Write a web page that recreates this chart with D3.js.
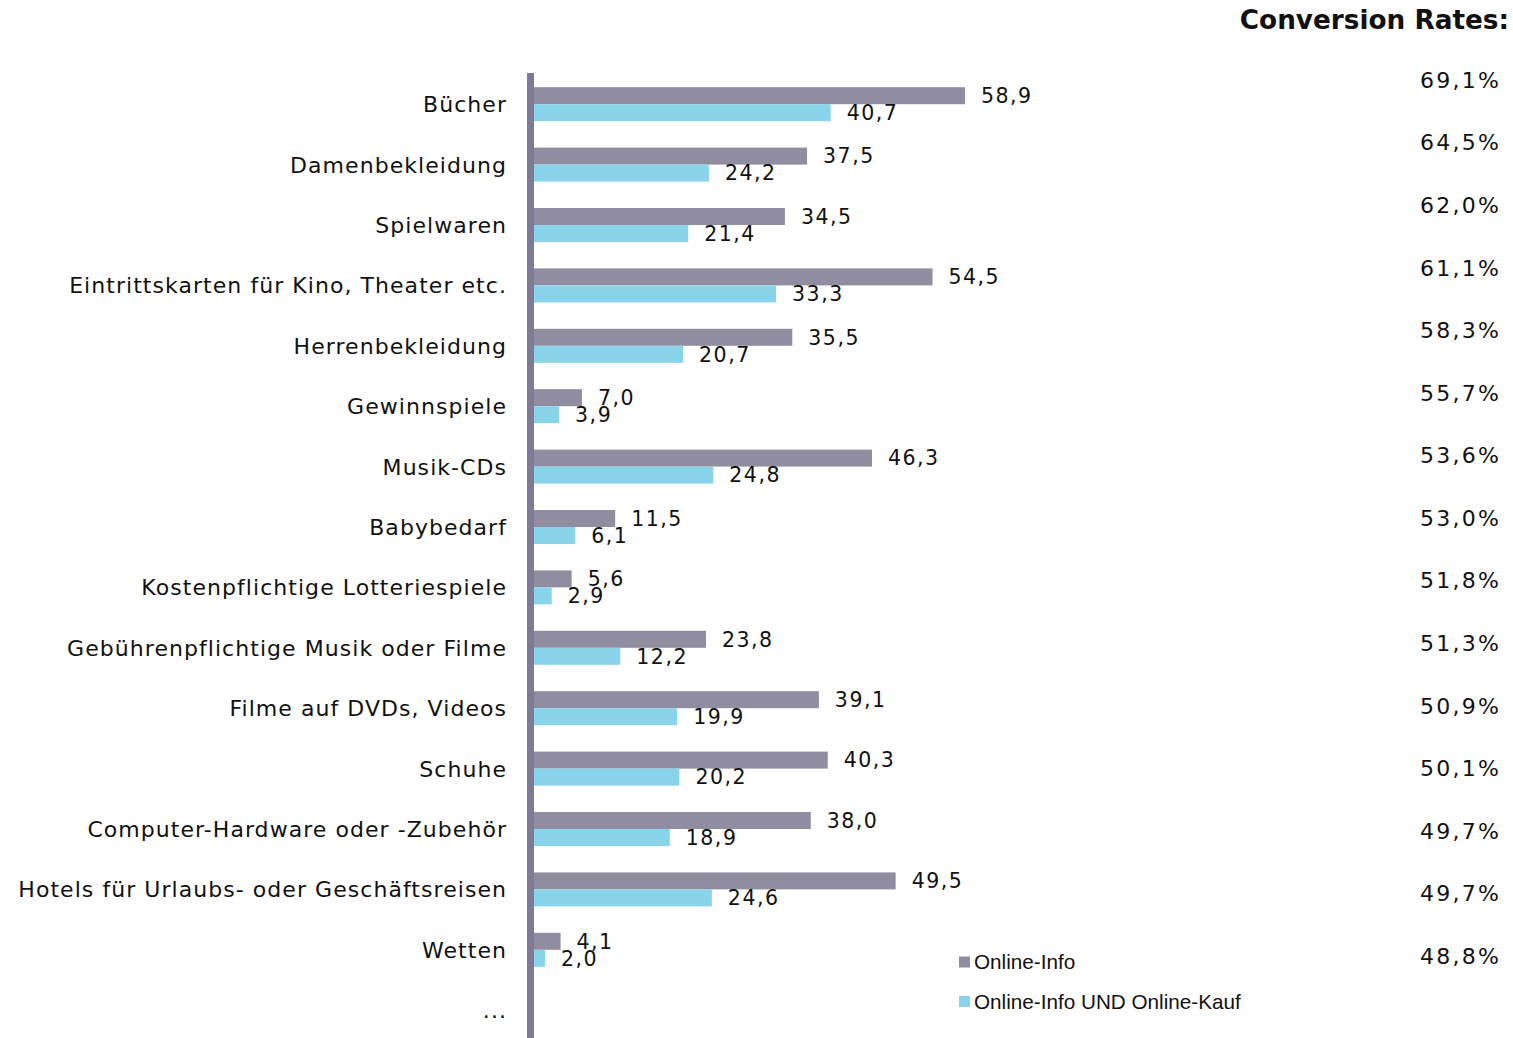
<!DOCTYPE html>
<html><head><meta charset="utf-8">
<script src="https://cdn.jsdelivr.net/npm/d3@7"></script>
<style>body{margin:0;background:#fff}svg{display:block}</style>
</head><body>
<svg id="c" width="1513" height="1038"></svg>
<script>
const categories = ["Bücher","Damenbekleidung","Spielwaren","Eintrittskarten für Kino, Theater etc.","Herrenbekleidung","Gewinnspiele","Musik-CDs","Babybedarf","Kostenpflichtige Lotteriespiele","Gebührenpflichtige Musik oder Filme","Filme auf DVDs, Videos","Schuhe","Computer-Hardware oder -Zubehör","Hotels für Urlaubs- oder Geschäftsreisen","Wetten","..."];
const onlineInfo = [58.9,37.5,34.5,54.5,35.5,7.0,46.3,11.5,5.6,23.8,39.1,40.3,38.0,49.5,4.1];
const onlineKauf = [40.7,24.2,21.4,33.3,20.7,3.9,24.8,6.1,2.9,12.2,19.9,20.2,18.9,24.6,2.0];
const conversionRates = [69.1,64.5,62.0,61.1,58.3,55.7,53.6,53.0,51.8,51.3,50.9,50.1,49.7,49.7,48.8];
const seriesNames = ["Online-Info","Online-Info UND Online-Kauf"];
const title = "Conversion Rates:";

const colors = ["#8f8d9f","#89d4eb"];
const fmt = v => d3.format(".1f")(v).replace(".", ",");
const svg = d3.select("#c");
const labelFont = "'DejaVu Sans', Verdana, sans-serif";

const x = d3.scaleLinear().domain([0, 58.9]).range([530.3, 965]);
const y = d3.scaleBand().domain(categories).range([74, 74 + 16*60.4]).paddingInner(0.437).paddingOuter(0.2185);
const sub = d3.scaleBand().domain([0,1]).range([0, y.bandwidth()]);
const yRate = d3.scalePoint().domain(d3.range(conversionRates.length)).range([80, 956]);

// bars
const rows = categories.slice(0, onlineInfo.length).map((c,i)=>({c, vals:[onlineInfo[i], onlineKauf[i]]}));
const g = svg.append("g");
rows.forEach(r=>{
  r.vals.forEach((v,k)=>{
    g.append("rect").attr("x", x(0)).attr("y", y(r.c)+sub(k))
      .attr("width", x(v)-x(0)).attr("height", sub.bandwidth()).attr("fill", colors[k]);
    g.append("text").attr("x", x(v)+16).attr("y", y(r.c)+sub(k)+sub.bandwidth()/2)
      .attr("dy","0.36em").attr("font-family", labelFont).attr("font-size", 20.5)
      .attr("letter-spacing", "1.5px").attr("fill","#111").text(fmt(v));
  });
});

// category labels
svg.append("g").selectAll("text").data(categories).join("text")
  .attr("x", 507).attr("y", d=>y(d)+y.bandwidth()/2).attr("dy","0.36em")
  .attr("text-anchor","end").attr("font-family", labelFont).attr("font-size", 22)
  .attr("letter-spacing","1.05px").attr("fill","#111").text(d=>d);

// axis line
svg.append("line").attr("x1",530.5).attr("x2",530.5).attr("y1",73).attr("y2",1038)
  .attr("stroke","#7d7b96").attr("stroke-width",7);

// title
svg.append("text").attr("x",1509).attr("y",20).attr("dy","0.36em").attr("text-anchor","end")
  .attr("font-family", labelFont).attr("font-weight","bold").attr("font-size",26.3)
  .attr("fill","#111").text(title);

// conversion rates
svg.append("g").selectAll("text").data(conversionRates).join("text")
  .attr("x",1501).attr("y",(d,i)=>yRate(i)).attr("dy","0.36em").attr("text-anchor","end")
  .attr("font-family", labelFont).attr("font-size",22).attr("letter-spacing","2.2px")
  .attr("fill","#111").text(d=>fmt(d)+"%");

// legend
const lg = svg.append("g");
seriesNames.forEach((s,k)=>{
  const ly = 962 + k*39.5;
  lg.append("rect").attr("x",959).attr("y",ly-5.5).attr("width",11).attr("height",11).attr("fill",colors[k]);
  lg.append("text").attr("x",974).attr("y",ly).attr("dy","0.36em")
    .attr("font-family","'Liberation Sans', Arial, sans-serif").attr("font-size",20.7)
    .attr("fill","#111").text(s);
});
</script>
</body></html>
